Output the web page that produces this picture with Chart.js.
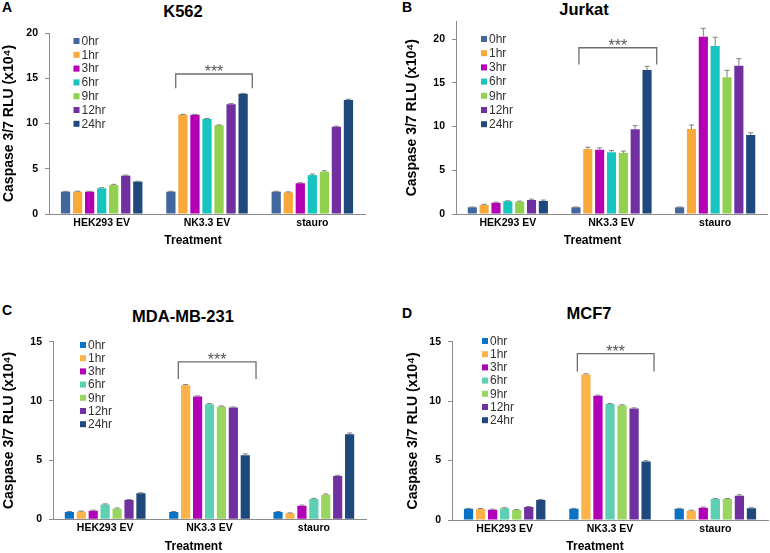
<!DOCTYPE html>
<html><head><meta charset="utf-8">
<script src="https://cdn.jsdelivr.net/npm/chart.js@4.4.1/dist/chart.umd.min.js"></script>
<style>
body{margin:0;background:#fff;width:770px;height:553px;position:relative;overflow:hidden;font-family:"Liberation Sans",Arial,sans-serif}
canvas{position:absolute}
.t{position:absolute;transform:translate(-50%,-50%);font-weight:bold;color:#000;white-space:nowrap;line-height:1}
.ttl{font-size:16.5px}
.let{font-size:14px}
</style></head><body>
<div class="t let" style="left:7px;top:7px">A</div>
<div class="t let" style="left:407px;top:7px">B</div>
<div class="t let" style="left:7px;top:310px">C</div>
<div class="t let" style="left:407px;top:313px">D</div>
<div class="t ttl" style="left:183px;top:11px">K562</div>
<div class="t ttl" style="left:584px;top:8.5px">Jurkat</div>
<div class="t ttl" style="left:183px;top:316px">MDA-MB-231</div>
<div class="t ttl" style="left:589px;top:312.7px">MCF7</div>
<canvas id="cA" width="385" height="276" style="left:0;top:0"></canvas>
<canvas id="cB" width="385" height="276" style="left:385px;top:0"></canvas>
<canvas id="cC" width="385" height="277" style="left:0;top:276px"></canvas>
<canvas id="cD" width="385" height="277" style="left:385px;top:276px"></canvas>
<script>
// ---- data ----
const treatments = ['HEK293 EV', 'NK3.3 EV', 'stauro'];
const timePoints = ['0hr', '1hr', '3hr', '6hr', '9hr', '12hr', '24hr'];
const yAxisLabel = 'Caspase 3/7 RLU (x10\u2074)';
const xAxisLabel = 'Treatment';
const sigLabel = '***';

// rows = time points, columns = treatments (x10^4 RLU)
const k562Values = [
  [2.47, 2.47, 2.47],
  [2.47, 10.96, 2.40],
  [2.47, 10.96, 3.40],
  [2.84, 10.50, 4.30],
  [3.20, 9.80, 4.68],
  [4.24, 12.14, 9.65],
  [3.58, 13.28, 12.60]
];
const k562Errors = [
  [0.04, 0.04, 0.04],
  [0.05, 0.05, 0.04],
  [0.04, 0.05, 0.06],
  [0.06, 0.05, 0.12],
  [0.08, 0.04, 0.10],
  [0.06, 0.06, 0.06],
  [0.04, 0.05, 0.08]
];
const jurkatValues = [
  [0.76, 0.76, 0.76],
  [1.03, 7.43, 9.71],
  [1.30, 7.35, 20.27],
  [1.45, 7.05, 19.20],
  [1.41, 6.97, 15.62],
  [1.60, 9.68, 16.95],
  [1.49, 16.46, 9.03]
];
const jurkatErrors = [
  [0.04, 0.04, 0.04],
  [0.08, 0.20, 0.46],
  [0.06, 0.20, 0.95],
  [0.06, 0.20, 1.00],
  [0.06, 0.22, 0.80],
  [0.10, 0.42, 0.80],
  [0.10, 0.42, 0.25]
];
const mdaValues = [
  [0.62, 0.62, 0.62],
  [0.65, 11.32, 0.51],
  [0.73, 10.37, 1.15],
  [1.24, 9.72, 1.71],
  [0.90, 9.52, 2.08],
  [1.63, 9.44, 3.65],
  [2.19, 5.42, 7.19]
];
const mdaErrors = [
  [0.04, 0.04, 0.04],
  [0.04, 0.06, 0.03],
  [0.04, 0.05, 0.05],
  [0.06, 0.05, 0.06],
  [0.05, 0.05, 0.06],
  [0.04, 0.05, 0.06],
  [0.05, 0.10, 0.10]
];
const mcf7Values = [
  [0.95, 0.95, 0.95],
  [0.92, 12.24, 0.78],
  [0.87, 10.45, 1.04],
  [0.98, 9.75, 1.76],
  [0.84, 9.64, 1.76],
  [1.09, 9.38, 2.04],
  [1.68, 4.93, 0.98]
];
const mcf7Errors = [
  [0.03, 0.03, 0.03],
  [0.05, 0.06, 0.04],
  [0.04, 0.05, 0.05],
  [0.05, 0.04, 0.06],
  [0.04, 0.05, 0.05],
  [0.04, 0.05, 0.08],
  [0.05, 0.06, 0.05]
];

// ---- styles ----
const FONT = '"Liberation Sans", Arial, sans-serif';
const AXIS = '#8c8c8c';
const paletteTop = ['#41679c', '#f9a83a', '#b300b3', '#17c4c0', '#92d050', '#7030a0', '#1f497d'];
const paletteBottom = ['#0a72c4', '#fdb24a', '#b000b8', '#5dcfb2', '#9ad561', '#7030a0', '#1f497d'];

function extrasPlugin(cfg) {
  return {
    id: 'extras',
    afterDatasetsDraw(chart) {
      const ctx = chart.ctx;
      const xs = chart.scales.x, ys = chart.scales.y, ca = chart.chartArea;
      ctx.save();
      // error bars
      ctx.strokeStyle = '#7f7f7f';
      ctx.lineWidth = 1;
      chart.data.datasets.forEach((ds, di) => {
        const meta = chart.getDatasetMeta(di);
        meta.data.forEach((el, i) => {
          const v = ds.data[i], e = ds.errors[i];
          const yTop = ys.getPixelForValue(v + e);
          const w = el.width * 0.55;
          ctx.beginPath();
          ctx.moveTo(el.x, el.y);
          ctx.lineTo(el.x, yTop);
          ctx.moveTo(el.x - w / 2, yTop);
          ctx.lineTo(el.x + w / 2, yTop);
          ctx.stroke();
        });
      });
      // significance bracket
      const b = cfg.bracket;
      const x1 = xs.getPixelForValue(b[0]), x2 = xs.getPixelForValue(b[1]);
      const yT = ys.getPixelForValue(b[2]), yB = ys.getPixelForValue(b[3]);
      ctx.strokeStyle = '#6e6e6e';
      ctx.lineWidth = 1.3;
      ctx.beginPath();
      ctx.moveTo(x1, yB); ctx.lineTo(x1, yT); ctx.lineTo(x2, yT); ctx.lineTo(x2, yB);
      ctx.stroke();
      ctx.fillStyle = '#555';
      ctx.font = '16px ' + FONT;
      ctx.textAlign = 'center';
      ctx.textBaseline = 'alphabetic';
      ctx.fillText(sigLabel, (x1 + x2) / 2, yT + 3);
      // legend
      const L = cfg.legend;
      ctx.font = '12px ' + FONT;
      ctx.textAlign = 'left';
      ctx.textBaseline = 'middle';
      chart.data.datasets.forEach((ds, i) => {
        const cy = ca.top + L.dy + i * L.step;
        const sx = ca.left + L.dx;
        ctx.fillStyle = ds.backgroundColor;
        ctx.fillRect(sx, cy - 3, 6, 6);
        ctx.fillStyle = '#333';
        ctx.fillText(ds.label, sx + 8, cy + 0.5);
      });
      // x-axis title
      ctx.fillStyle = '#000';
      ctx.font = 'bold 12px ' + FONT;
      ctx.textAlign = 'center';
      ctx.textBaseline = 'middle';
      ctx.fillText(xAxisLabel, (ca.left + ca.right) / 2 + cfg.xTitleDx, ca.bottom + 27);
      ctx.restore();
    }
  };
}

function makeChart(id, values, errors, colors, cfg) {
  const datasets = timePoints.map((t, i) => ({
    label: t,
    data: values[i],
    errors: errors[i],
    backgroundColor: colors[i],
    barPercentage: 0.77,
    categoryPercentage: 0.8
  }));
  return new Chart(document.getElementById(id), {
    type: 'bar',
    data: { labels: treatments, datasets },
    options: {
      responsive: false,
      animation: false,
      devicePixelRatio: 1,
      layout: { padding: { left: 0, right: cfg.padRight, top: cfg.padTop, bottom: cfg.padBottom } },
      plugins: { legend: { display: false }, tooltip: { enabled: false }, title: { display: false } },
      scales: {
        x: {
          grid: { display: false, drawTicks: false },
          border: { display: true, color: AXIS, width: 1 },
          ticks: { color: '#000', font: { family: FONT, size: 10.5, weight: 'bold' }, padding: 3, maxRotation: 0 },
          title: { display: false },
          afterFit: s => { s.height = cfg.xHeight; }
        },
        y: {
          min: 0, max: cfg.yMax,
          grid: { drawOnChartArea: false, drawTicks: true, tickLength: 4, color: AXIS },
          border: { display: true, color: AXIS, width: 1 },
          ticks: { stepSize: 5, includeBounds: false, color: '#000', font: { family: FONT, size: 10.5, weight: 'bold' }, padding: 7 },
          title: { display: true, text: yAxisLabel, color: '#000', font: { family: FONT, size: 14, weight: 'bold', lineHeight: 1.2 }, padding: { top: cfg.yTitlePad, bottom: 0 } },
          afterFit: s => { s.width = cfg.yWidth; }
        }
      }
    },
    plugins: [extrasPlugin(cfg)]
  });
}

makeChart('cA', k562Values, k562Errors, paletteTop, {
  yMax: 20, padTop: 33, padRight: 20, padBottom: 27.8, xHeight: 34.2, yWidth: 49, yTitlePad: 0.6, xTitleDx: -14,
  bracket: [0.703, 1.430, 15.47, 13.9], legend: { dx: 24.5, dy: 8, step: 13.8 }
});
makeChart('cB', jurkatValues, jurkatErrors, paletteTop, {
  yMax: 22, padTop: 21.5, padRight: 3, padBottom: 27.8, xHeight: 34.2, yWidth: 71, yTitlePad: 18.6, xTitleDx: -19,
  bracket: [0.686, 1.436, 19.0, 17.1], legend: { dx: 25, dy: 17.5, step: 14.2 }
});
makeChart('cC', mdaValues, mdaErrors, paletteBottom, {
  yMax: 15, padTop: 65.7, padRight: 19, padBottom: 0, xHeight: 33.7, yWidth: 53, yTitlePad: 0.6, xTitleDx: -16,
  bracket: [0.701, 1.446, 13.3, 11.86], legend: { dx: 27, dy: 3.3, step: 13.2 }
});
makeChart('cD', mcf7Values, mcf7Errors, paletteBottom, {
  yMax: 15, padTop: 65.7, padRight: 2, padBottom: 0, xHeight: 33, yWidth: 67, yTitlePad: 19.6, xTitleDx: -15,
  bracket: [0.690, 1.418, 14.0, 12.5], legend: { dx: 30, dy: -0.7, step: 13.2 }
});
</script>
</body></html>
